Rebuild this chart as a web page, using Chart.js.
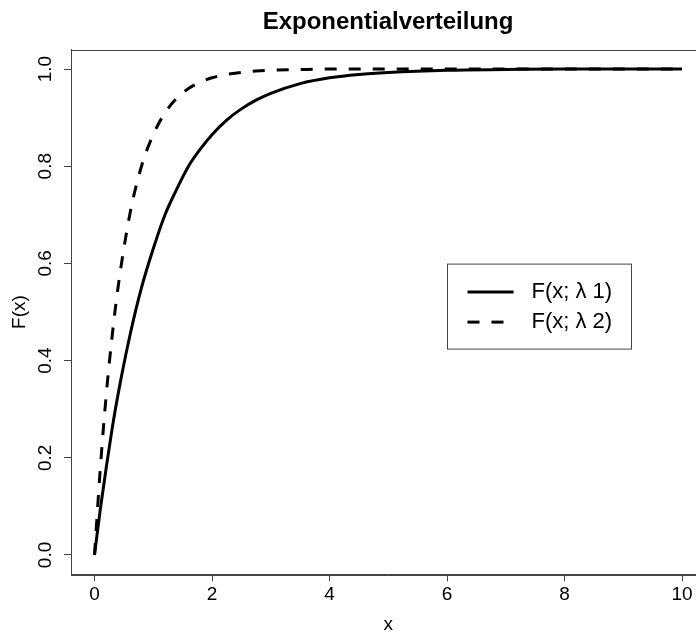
<!DOCTYPE html>
<html>
<head>
<meta charset="utf-8">
<script src="https://cdn.jsdelivr.net/npm/chart.js@4/dist/chart.umd.min.js"></script>
<style>
  html, body { margin: 0; padding: 0; overflow: hidden; background: #fff; }
  canvas { display: block; }
</style>
</head>
<body>
<canvas id="c" width="776" height="637"></canvas>
<script>
// ---- data ----
const chartTitle = "Exponentialverteilung";
const xLabel = "x";
const yLabel = "F(x)";
const seriesNames = ["F(x; \u03bb 1)", "F(x; \u03bb 2)"];
const xValues = [0, 0.1, 0.2, 0.3, 0.4, 0.6, 0.8, 1.0, 1.2, 1.4, 1.6, 1.8, 2.0, 2.25, 2.5, 2.75, 3, 3.5, 4, 4.5, 5, 6, 7, 8, 9, 10];
const lambda1 = [0, 0.095, 0.18, 0.26, 0.33, 0.45, 0.55, 0.63, 0.70, 0.753, 0.80, 0.835, 0.865, 0.895, 0.918, 0.936, 0.95, 0.97, 0.982, 0.989, 0.993, 0.9975, 0.999, 1.0, 1.0, 1.0];
const lambda2 = [0, 0.18, 0.33, 0.45, 0.55, 0.70, 0.80, 0.865, 0.91, 0.94, 0.96, 0.973, 0.982, 0.989, 0.993, 0.996, 0.9975, 0.999, 1.0, 1.0, 1.0, 1.0, 1.0, 1.0, 1.0, 1.0];
const xTicks = [0, 2, 4, 6, 8, 10];
const yTicks = [0.0, 0.2, 0.4, 0.6, 0.8, 1.0];

const FONT = "'Liberation Sans', Arial, sans-serif";
const AXIS = '#444';

const toPts = ys => xValues.map((x, i) => ({ x: x, y: ys[i] }));

const boxPlugin = {
  id: 'rbox',
  afterDraw(chart) {
    const { ctx, chartArea: a } = chart;
    ctx.save();
    ctx.strokeStyle = AXIS;
    ctx.lineWidth = 1;
    ctx.strokeRect(Math.round(a.left) + 0.5, Math.round(a.top) + 0.5,
                   Math.round(a.right - a.left), Math.round(a.bottom - a.top));
    ctx.restore();
  }
};

const legendPlugin = {
  id: 'rlegend',
  afterDraw(chart) {
    const { ctx, chartArea: a } = chart;
    const L = a.left + 376.5, T = a.top + 214.5, W = 184, H = 85;
    ctx.save();
    ctx.fillStyle = '#fff';
    ctx.fillRect(L, T, W, H);
    ctx.strokeStyle = AXIS;
    ctx.lineWidth = 1;
    ctx.strokeRect(L, T, W, H);
    chart.data.datasets.forEach((ds, i) => {
      const y = T + 28 + i * 30;
      ctx.beginPath();
      ctx.strokeStyle = ds.borderColor;
      ctx.lineWidth = ds.borderWidth;
      ctx.setLineDash(ds.borderDash || []);
      ctx.moveTo(L + 20, y);
      ctx.lineTo(L + 66, y);
      ctx.stroke();
      ctx.setLineDash([]);
      ctx.fillStyle = '#000';
      ctx.font = '22px ' + FONT;
      ctx.textBaseline = 'middle';
      ctx.textAlign = 'left';
      ctx.fillText(ds.label, L + 84, y);
    });
    ctx.restore();
  }
};

new Chart(document.getElementById('c'), {
  type: 'line',
  data: {
    datasets: [
      { label: seriesNames[0], data: toPts(lambda1), borderColor: '#000', borderWidth: 3,
        pointRadius: 0, cubicInterpolationMode: 'monotone', fill: false },
      { label: seriesNames[1], data: toPts(lambda2), borderColor: '#000', borderWidth: 3,
        borderDash: [12, 12], pointRadius: 0, cubicInterpolationMode: 'monotone', fill: false }
    ]
  },
  options: {
    responsive: false,
    devicePixelRatio: 1,
    animation: false,
    layout: { padding: 0 },
    plugins: {
      legend: { display: false },
      tooltip: { enabled: false },
      title: {
        display: true, text: chartTitle, color: '#000', fullSize: true,
        font: { family: FONT, size: 24, weight: 'bold', lineHeight: 1.2 },
        padding: { top: 8, bottom: 12.8 }
      }
    },
    scales: {
      x: {
        type: 'linear', min: -0.4, max: 10.4,
        afterBuildTicks: s => { s.ticks = xTicks.map(v => ({ value: v })); },
        afterFit: s => { s.height = 62.6; },
        grid: { display: true, drawOnChartArea: false, drawTicks: true, tickLength: 7, tickColor: AXIS },
        border: { display: true, color: AXIS, width: 1 },
        ticks: { color: '#000', font: { family: FONT, size: 19 }, padding: 2,
                 maxRotation: 0, callback: v => String(v) },
        title: { display: true, text: xLabel, color: '#000',
                 font: { family: FONT, size: 19, lineHeight: 1.2 }, padding: { top: 0, bottom: 0.6 } }
      },
      y: {
        type: 'linear', min: -0.04, max: 1.04,
        afterBuildTicks: s => { s.ticks = yTicks.map(v => ({ value: v })); },
        afterFit: s => { s.width = 71; },
        grid: { display: true, drawOnChartArea: false, drawTicks: true, tickLength: 7, tickColor: AXIS },
        border: { display: true, color: AXIS, width: 1 },
        ticks: { color: '#000', font: { family: FONT, size: 19 }, padding: 5.5,
                 minRotation: 90, maxRotation: 90, crossAlign: 'center',
                 callback: v => v.toFixed(1) },
        title: { display: true, text: yLabel, color: '#000',
                 font: { family: FONT, size: 19, lineHeight: 1.2 }, padding: { top: 8.6, bottom: 0 } }
      },
      yRightSpace: {
        type: 'linear', position: 'right', display: true, min: 0, max: 1,
        afterFit: s => { s.width = 70.5; },
        grid: { display: false, drawTicks: false },
        border: { display: false },
        ticks: { display: false },
        title: { display: false }
      }
    }
  },
  plugins: [boxPlugin, legendPlugin]
});
</script>
</body>
</html>
